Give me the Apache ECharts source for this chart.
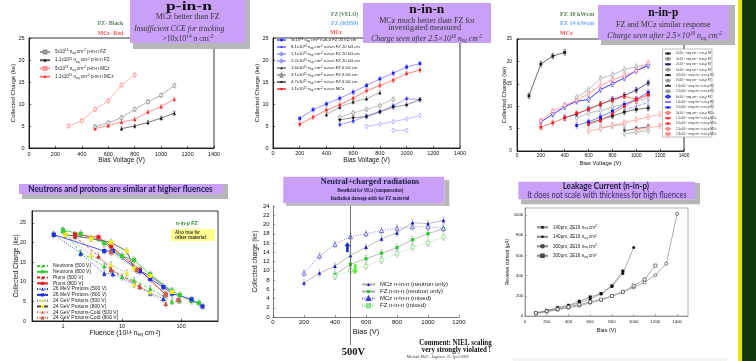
<!DOCTYPE html>
<html><head><meta charset="utf-8">
<script src="https://cdn.jsdelivr.net/npm/echarts/dist/echarts.min.js"></script>
<style>html,body{margin:0;padding:0;background:#fff}#c{width:756px;height:361px}</style>
</head><body><div id="c"></div><script>
// ---------------- DATA ----------------
// Chart 1: p-in-n (Bias V, collected charge ke)
const C1_FZ_5E14  = [[500,4.8],[600,5.7],[700,6.9],[800,8.8],[900,10.5],[1000,12.0],[1100,14.2]];
const C1_FZ_1E15  = [[700,4.4],[800,5.0],[900,5.8],[1000,6.8],[1100,7.9]];
const C1_MCZ_5E14 = [[300,5.0],[400,6.2],[500,8.8],[600,10.7],[700,14.3],[800,16.6]];
const C1_MCZ_1E15 = [[500,4.4],[600,5.1],[700,5.9],[800,6.5],[900,8.2],[1000,9.4],[1100,11.1]];
// Chart 2: n-in-n
const C2_S1 = [[200,6.7],[300,8.7],[400,10.0],[500,11.3],[600,12.7],[700,14.2],[800,15.7],[900,17.0],[1000,18.4],[1100,19.2]];
const C2_S2 = [[500,5.3],[600,6.1],[700,7.3],[800,8.3],[900,9.6],[1000,11.2],[1100,11.0]];
const C2_S3 = [[700,4.9],[800,5.4],[900,6.0],[1000,6.6],[1100,7.4]];
const C2_S4 = [[900,4.0],[1000,4.0]];
const C2_S5 = [[400,7.6],[500,9.3],[600,10.5],[700,11.2],[800,12.6]];
const C2_S6 = [[500,7.0],[600,8.0],[700,8.8],[800,9.7],[900,11.1]];
const C2_S7 = [[500,6.4],[600,6.9],[700,7.1],[800,8.2],[900,9.3],[1000,9.8],[1100,11.0]];
const C2_S8 = [[200,5.4],[300,7.0],[400,8.6],[500,9.8],[600,11.3],[700,13.0],[800,14.2],[900,15.4],[1000,16.9],[1100,17.7]];
// Chart 3: n-in-p
const C3_S1  = [[100,12.3],[200,19.4],[300,21.2],[400,22.0]];
const C3_S2  = [[500,12.0],[600,13.7],[700,16.2],[800,17.0],[900,18.2],[1000,18.8],[1100,19.3]];
const C3_S3  = [[400,7.4],[500,8.2],[600,9.4],[700,10.4],[800,11.5],[900,12.4],[1000,13.6],[1100,15.2]];
const C3_S4  = [[500,7.3],[600,8.5],[700,9.0],[800,9.8],[900,10.5],[1000,11.2],[1100,11.8]];
const C3_S5  = [[600,6.2],[700,7.0],[800,7.8],[900,8.7],[1000,9.3],[1100,9.6]];
const C3_S6  = [[700,5.2],[800,5.6],[900,5.9]];
const C3_S7  = [[900,4.5],[1000,5.0],[1100,5.4]];
const C3_S8  = [[900,3.9],[1000,4.2],[1100,4.6]];
const C3_S9  = [[200,6.5],[300,8.2],[400,9.9],[500,11.1],[600,11.5],[700,13.7],[800,15.0],[900,16.3],[1000,17.9],[1100,19.1]];
const C3_S10 = [[900,9.2],[1000,10.0],[1100,10.8]];
const C3_S11 = [[500,5.7],[600,6.5],[700,7.6],[800,8.9],[900,10.4],[1000,11.6],[1100,13.1]];
const C3_S12 = [[200,6.7],[300,8.9],[400,10.2],[500,11.3],[600,12.8],[700,14.6],[800,15.9],[900,16.8],[1000,17.9],[1100,19.7]];
const C3_S13 = [[200,5.3],[300,6.3],[400,7.4],[500,8.4],[600,9.3],[700,10.5],[800,11.3],[900,12.2],[1000,11.5],[1100,12.6]];
const C3_S14 = [[600,6.0],[700,6.8],[800,8.3],[900,10.0],[1000,11.4],[1100,12.5]];
const C3_S15 = [[600,4.4],[700,5.0],[800,5.7],[900,6.3],[1000,7.0],[1100,7.6],[1200,8.2]];
const C3_S16 = [[1000,4.7],[1100,5.2],[1200,5.6]];
// Chart 4: fluence (1e14 neq/cm2) vs collected charge
const C4_N500 = [[1,23.0],[2,17.4],[5,14.0],[10,11.2],[16,10.3],[30,8.2],[70,5.0],[95,5.2]];
const C4_N800 = [[1,23.1],[2,22.2],[5,19.8],[10,16.5],[16,15.5],[30,11.9],[70,7.7],[95,6.6],[150,5.1],[200,4.6]];
const C4_P500 = [[1.6,21.5],[4,16.5],[6.5,13.2],[20,8.8]];
const C4_P800 = [[1.6,22.0],[4,21.3],[6.5,19.0],[20,13.0],[55,6.7]];
const C4_M500 = [[0.7,22.0],[2,17.2],[5,12.1],[7,12.0],[30,7.1],[50,5.7]];
const C4_M800 = [[0.7,22.0],[5,17.8],[7,17.8],[20,12.7],[30,10.7],[50,8.6],[70,7.0],[150,5.5],[230,3.7]];
const C4_G500 = [[1.1,22.0],[3,16.8],[6.5,14.3],[12,12.2],[16,9.3],[30,7.3]];
const C4_G800 = [[1.1,22.0],[3,21.0],[6.5,20.0],[12,17.8],[16,13.4],[30,11.5],[70,7.4]];
const C4_C500 = [[6.5,13.0],[20,8.7],[55,4.4]];
const C4_C800 = [[6.5,17.5],[18,12.9],[55,6.7],[90,5.3]];
// Chart 5: neutral + charged
const C5_MCZ_N = [[200,7.35],[300,9.5],[400,11.0],[500,13.3],[600,15.1],[700,16.9],[800,18.2],[900,20.4],[1000,20.2],[1100,20.9]];
const C5_FZ_N  = [[400,9.2],[500,11.4],[600,12.6],[700,13.8],[800,15.0],[900,16.7],[1000,18.0],[1100,19.1]];
const C5_MCZ_M = [[200,9.5],[300,13.2],[400,15.7],[500,17.4],[600,18.0],[700,18.7],[800,19.2],[900,19.5],[1000,19.5],[1100,19.2]];
const C5_FZ_M  = [[400,8.8],[500,10.1],[600,11.0],[700,12.3],[800,13.7],[900,15.1],[1000,16.0],[1100,17.3]];
const C5_MARK_V = 500;
const C5_ARROW_UP = [480, 15.1];
const C5_ARROW_DOWN = [530, 10.3];
// Chart 6: leakage current (Bias V, uA)
const C6_140A = [[100,30],[200,56],[300,83],[400,106],[500,146],[600,189],[700,223],[800,299],[900,445]];
const C6_140B = [[100,28],[200,52],[300,75],[400,100],[500,130],[600,170],[700,218],[800,293],[900,420],[1000,678]];
const C6_300A = [[100,22],[200,42],[300,62],[400,82],[500,102],[600,130],[700,160],[800,197],[900,238],[1000,283],[1100,333],[1200,405],[1300,518],[1400,1012]];
const C6_300B = [[100,28],[200,48],[300,68],[400,90],[500,113],[600,140],[700,163],[800,198],[900,240],[1000,300],[1100,362],[1200,500]];

// ---------------- HELPERS ----------------
const SANS='"Liberation Sans", Arial, sans-serif', SERIF='"Liberation Serif", serif', CAL='Lato, "Open Sans", sans-serif';
const PURP='#c9a0f8', GRAY='#b6b6b6';
const mctx=document.createElement('canvas').getContext('2d');
function mw(t,f){mctx.font=f;return mctx.measureText(t).width;}
const fmt=n=>n.trim().replace(/\^\{([^}]*)\}/g,'{sup|$1}').replace(/_\{([^}]*)\}/g,'{sub|$1}');
const SUP={'0':'⁰','1':'¹','2':'²','3':'³','4':'⁴','5':'⁵','6':'⁶','7':'⁷','8':'⁸','9':'⁹','-':'⁻'};
const fmtPlain=n=>n.trim().replace(/\^\{([^}]*)\}/g,(m,t)=>t.split('').map(ch=>SUP[ch]||ch).join('')).replace(/_\{([^}]*)\}/g,'$1');
function rich(fs,fam){return {sup:{fontSize:fs*0.68,lineHeight:fs*0.75,verticalAlign:'top',fontFamily:fam,color:'#222'},
  sub:{fontSize:fs*0.68,lineHeight:fs*0.75,verticalAlign:'bottom',fontFamily:fam,color:'#222'}};}
const STAR='path://M0,-10 L2.9,-4 L9.5,-3.1 L4.7,1.5 L5.9,8.1 L0,5 L-5.9,8.1 L-4.7,1.5 L-9.5,-3.1 L-2.9,-4 Z';
const numFmt=v=>String(Math.round(v*1000)/1000);

function ln(name,data,i,c,o){o=o||{};
  return {type:'line',name,data,xAxisIndex:i,yAxisIndex:i,symbol:o.sym||'rect',symbolSize:o.ss||2.8,symbolRotate:o.rot||0,
    lineStyle:{color:o.lc||c,width:o.lw||0.8,type:o.lt||'solid'},
    itemStyle:{color:o.open?'#fff':c,borderColor:c,borderWidth:o.open?0.7:0},
    emphasis:{disabled:true},silent:true,z:4,animation:false};}
function eb(data,i,e,c){
  return {type:'custom',xAxisIndex:i,yAxisIndex:i,silent:true,z:3,animation:false,
    data:data.map(p=>[p[0],p[1]-e,p[1]+e]),
    renderItem:(params,api)=>{const a=api.coord([api.value(0),api.value(1)]),b=api.coord([api.value(0),api.value(2)]),w=1.2;
      const st={stroke:c,lineWidth:0.6};
      return {type:'group',children:[
        {type:'line',shape:{x1:a[0],y1:a[1],x2:b[0],y2:b[1]},style:st},
        {type:'line',shape:{x1:a[0]-w,y1:a[1],x2:a[0]+w,y2:a[1]},style:st},
        {type:'line',shape:{x1:b[0]-w,y1:b[1],x2:b[0]+w,y2:b[1]},style:st}]};}};}
function axis(gi,o){
  const lc=gi===5?'#888':(gi===4?'#555':'#000');
  const a={gridIndex:gi,type:o.type||'value',min:o.min,max:o.max,
    name:o.name,nameLocation:'middle',nameGap:o.gap,nameMoveOverlap:false,
    nameTextStyle:{fontSize:o.nfs,color:'#111',fontFamily:SANS,rich:rich(o.nfs,SANS)},
    axisLine:{show:true,onZero:false,lineStyle:{color:lc,width:0.8}},
    axisTick:{show:true,inside:true,length:2.2,lineStyle:{color:lc,width:0.6}},
    axisLabel:{fontSize:o.lfs,color:'#111',margin:o.margin,fontFamily:SANS,formatter:numFmt},
    splitLine:{show:false}};
  if(o.interval)a.interval=o.interval;
  if(o.type==='log')a.logBase=10;
  if(o.hideMax)a.axisLabel.showMaxLabel=false;
  if(o.hideMin)a.axisLabel.showMinLabel=false;
  return a;}
function leg(names,left,top,fs,lh,gap,iw,ih,extra){
  return Object.assign({show:true,orient:'vertical',left,top,data:names,formatter:fmt,itemWidth:iw,itemHeight:ih,itemGap:gap,
    padding:0,selectedMode:false,textStyle:{fontSize:fs,lineHeight:lh,color:'#222',fontFamily:SANS,rich:rich(fs,SANS)}},extra||{});}

// ---------------- SERIES ----------------
const series=[];const L=[[],[],[],[],[],[]];
function add(ci,name,data,c,o,err,ec){series.push(ln(name,data,ci,c,o));L[ci].push(name);if(err)series.push(eb(data,ci,err,ec||(o&&o.lc)||c));}
// chart 1
add(0,'5x10^{14} n_{eq} cm^{-2} p-in-n FZ',C1_FZ_5E14,'#8c8c8c',{open:true,lc:'#9a9a9a'},0.5);
add(0,'1.1x10^{15} n_{eq} cm^{-2} p-in-n FZ',C1_FZ_1E15,'#111',{sym:'triangle',ss:3.2,lc:'#555'},0.45);
add(0,'5x10^{14} n_{eq} cm^{-2} p-in-n MCz',C1_MCZ_5E14,'#ff8a8a',{open:true,lc:'#ff9c9c'},0.5);
add(0,'1.1x10^{15} n_{eq} cm^{-2} p-in-n MCz',C1_MCZ_1E15,'#ff1e1e',{sym:'triangle',ss:3.2,lc:'#ff7a7a'},0.45);
// chart 2
add(1,'5x10^{14} n_{eq} cm^{-2} n-in-n FZ 20 kΩ cm',C2_S1,'#1e1eff',{lc:'#7878ff'},0.5);
add(1,'8.1x10^{14} n_{eq} cm^{-2} n-in-n FZ 20 kΩ cm',C2_S2,'#2a2aff',{sym:'diamond',ss:3.4,lc:'#8c8cff'},0.45);
add(1,'1.1x10^{15} n_{eq} cm^{-2} n-in-n FZ 20 kΩ cm',C2_S3,'#9a9aff',{sym:'diamond',ss:3.4,open:true,lc:'#b0b0ff'},0.45);
add(1,'2.2x10^{15} n_{eq} cm^{-2} n-in-n FZ 20 kΩ cm',C2_S4,'#9a9aff',{sym:'diamond',ss:3.4,open:true,lc:'#b0b0ff'},0.4);
add(1,'1.6x10^{15} n_{eq} cm^{-2} n-in-n FZ 6 kΩ cm',C2_S5,'#111',{sym:'triangle',ss:3.2,lc:'#9a9a9a'},0.5);
add(1,'3.1x10^{15} n_{eq} cm^{-2} n-in-n FZ 6 kΩ cm',C2_S6,'#9a9a9a',{sym:STAR,ss:4,open:true,lc:'#b4b4b4'},0.5);
add(1,'4.7x10^{15} n_{eq} cm^{-2} n-in-n FZ 6 kΩ cm',C2_S7,'#111',{sym:'diamond',ss:3.4,lc:'#777'},0.45);
add(1,'1.1x10^{15} n_{eq} cm^{-2} n-in-n MCz',C2_S8,'#ff2020',{sym:'circle',ss:2.6,lc:'#ff6060'},0.5);
// chart 3
const C3=[
 ['2x10^{14} n_{eq} cm^{-2} n-in-p FZ',C3_S1,'#111',{lc:'#444'}],
 ['5x10^{14} n_{eq} cm^{-2} n-in-p FZ',C3_S2,'#999',{sym:'circle',open:true,lc:'#aaa'}],
 ['2x10^{15} n_{eq} cm^{-2} n-in-p FZ',C3_S3,'#1a1a55',{lc:'#33337a'}],
 ['5x10^{15} n_{eq} cm^{-2} n-in-p FZ',C3_S4,'#999',{sym:'diamond',ss:3.2,open:true,lc:'#aaa'}],
 ['4.5x10^{15} n_{eq} cm^{-2} n-in-p FZ',C3_S5,'#111',{lc:'#555'}],
 ['7x10^{15} n_{eq} cm^{-2} n-in-p FZ',C3_S6,'#999',{sym:'circle',open:true,lc:'#aaa'}],
 ['1.6x10^{16} n_{eq} cm^{-2} n-in-p FZ',C3_S7,'#111',{sym:'triangle',rot:180,lc:'#555'}],
 ['2.2x10^{16} n_{eq} cm^{-2} n-in-p FZ',C3_S8,'#999',{sym:'circle',open:true,lc:'#aaa'}],
 ['6x10^{14} n_{eq} cm^{-2} n-in-p FZ',C3_S9,'#3a3aff',{sym:'circle',open:true,lc:'#3a3aff',lw:1}],
 ['1.6x10^{15} n_{eq} cm^{-2} n-in-p FZ',C3_S10,'#8080ff',{sym:'none',lc:'#8080ff',lt:'dashed'}],
 ['5.5x10^{15} n_{eq} cm^{-2} n-in-p FZ',C3_S11,'#1010ff',{lc:'#5a5aff'}],
 ['5x10^{14} n_{eq} cm^{-2} n-in-p MCz',C3_S12,'#ff7a7a',{sym:'circle',open:true,lc:'#ff8c8c'}],
 ['1.5x10^{15} n_{eq} cm^{-2} n-in-p MCz',C3_S13,'#ff1a1a',{lc:'#ff5a5a'}],
 ['5.5x10^{15} n_{eq} cm^{-2} n-in-p MCz',C3_S14,'#ff1a1a',{lc:'#ff6a6a'}],
 ['1.5x10^{16} n_{eq} cm^{-2} n-in-p MCz',C3_S15,'#ff8a8a',{sym:'circle',open:true,lc:'#ff9c9c'}],
 ['2.3x10^{16} n_{eq} cm^{-2} n-in-p MCz',C3_S16,'#ff8a8a',{sym:'triangle',rot:180,open:true,lc:'#ff9c9c'}]];
C3.forEach(s=>add(2,s[0],s[1],s[2],s[3],0.6));
// chart 4
const C4=[
 ['Neutrons (500 V)',C4_N500,'#33cc33',{sym:'triangle',ss:4.6,lc:'#33cc33',lt:[3,2]}],
 ['Neutrons (800 V)',C4_N800,'#33cc33',{ss:4.2,lc:'#33cc33'}],
 ['Pions (500 V)',C4_P500,'#e02020',{sym:'triangle',ss:4.6,lc:'#e02020',lt:[3,2]}],
 ['Pions (800 V)',C4_P800,'#e02020',{ss:4.2,lc:'#e02020'}],
 ['26 MeV Protons (500 V)',C4_M500,'#1f2fe0',{sym:'triangle',ss:4.6,lc:'#1f2fe0',lt:[1,1.5]}],
 ['26 MeV Protons (800 V)',C4_M800,'#1f2fe0',{ss:4.2,lc:'#1f2fe0'}],
 ['24 GeV Protons (500 V)',C4_G500,'#eeee10',{sym:'triangle',ss:4.6,lc:'#777',lt:[1,1.5]}],
 ['24 GeV Protons (800 V)',C4_G800,'#eeee10',{ss:4.2,lc:'#444'}],
 ['24 GeV Protons-Cold (500 V)',C4_C500,'#c8503c',{sym:'triangle',ss:4.6,lc:'#d07060',lt:[1,1.5]}],
 ['24 GeV Protons-Cold (800 V)',C4_C800,'#d06050',{ss:4.2,lc:'#d07060',lt:[1,1.5]}]];
C4.forEach(s=>add(3,s[0],s[1],s[2],s[3],0.8,'#999'));
// chart 5
add(4,'MCz n-in-n (neutron only)',C5_MCZ_N,'#1010c8',{sym:'triangle',ss:3.6,lc:'#aaa'},0.7,'#aaa');
add(4,'FZ n-in-n (neutron only)',C5_FZ_N,'#22cc22',{ss:3.2,lc:'#aaa'},0.7,'#aaa');
add(4,'MCz n-in-n (mixed)',C5_MCZ_M,'#3a3ad0',{sym:'triangle',ss:4,open:true,lc:'#6a6ad8',lt:[1,1.5]},0.7,'#aaa');
add(4,'FZ n-in-n (mixed)',C5_FZ_M,'#7fe07f',{ss:3.4,open:true,lc:'#8fe08f',lt:[1,1.5]},0.7,'#aaa');
// chart 6
add(5,'140μm, 2E16 n_{eq} cm^{2}',C6_140A,'#111',{ss:3,lc:'#888',lw:0.7});
add(5,'140μm, 2E16 n_{eq} cm^{2} ',C6_140B,'#111',{sym:'circle',ss:3,lc:'#888',lw:0.7});
add(5,'300μm, 2E16 n_{eq} cm^{2}',C6_300A,'#444',{sym:'circle',ss:3,open:true,lc:'#888',lw:0.7});
add(5,'300μm, 2E16 n_{eq} cm^{2} ',C6_300B,'#444',{ss:3,open:true,lc:'#888',lw:0.7});

// ---------------- LAYOUT ----------------
const G=[{left:29,top:38,width:185,height:110},{left:273,top:38,width:187,height:110},{left:517,top:39,width:167,height:112},
 {left:32,top:211,width:186,height:110},{left:273,top:206,width:186,height:111},{left:525,top:208,width:163,height:108}];
const grids=G.map((g,i)=>Object.assign({show:i!==4,borderColor:i===5?'#999':'#000',borderWidth:0.8,backgroundColor:'rgba(0,0,0,0)',containLabel:false,outerBoundsMode:'none'},g));
const xAxes=[
 axis(0,{min:0,max:1400,interval:200,name:'Bias Voltage (V)',gap:9,nfs:6.5,lfs:5.5,margin:3}),
 axis(1,{min:0,max:1400,interval:200,name:'Bias Voltage (V)',gap:8.3,nfs:6.5,lfs:5.5,margin:2.8}),
 axis(2,{min:0,max:1400,interval:200,name:'Bias Voltage (V)',gap:9.3,nfs:5.8,lfs:4.8,margin:2.6}),
 axis(3,{type:'log',min:0.3,max:420,name:fmt('Fluence (10^{14} n_{eq} cm^{-2})'),gap:8.8,nfs:7,lfs:5.5,margin:2.9,hideMin:true,hideMax:true}),
 axis(4,{min:0,max:1200,interval:200,name:'Bias (V)',gap:11,nfs:7.5,lfs:6,margin:2}),
 axis(5,{min:0,max:1500,interval:200,name:'Bias (V)',gap:11.5,nfs:5.5,lfs:4.3,margin:3.6,hideMax:true})];
const yAxes=[
 axis(0,{min:0,max:25,interval:5,name:'Collected Charge (ke)',gap:13,nfs:6,lfs:5.5,margin:4.5}),
 axis(1,{min:0,max:25,interval:5,name:'Collected Charge (ke)',gap:13,nfs:6,lfs:5.5,margin:4.4}),
 axis(2,{min:0,max:25,interval:5,name:'Collected Charge (ke)',gap:9.5,nfs:5.8,lfs:4.8,margin:5}),
 axis(3,{min:0,max:28,interval:5,name:'Collected Charge (ke)',gap:12.5,nfs:6.5,lfs:5.5,margin:6,hideMax:true}),
 axis(4,{min:0,max:24,interval:2,name:'Collected charge (ke)',gap:14,nfs:6.5,lfs:6,margin:3.3}),
 axis(5,{min:0,max:1070,interval:200,name:'Reverse current (μA)',gap:15,nfs:5,lfs:4.3,margin:1.8,hideMax:true})];
const legends=[
 leg(L[0],39,49,4.6,6,2.2,10,3.6),
 leg(L[1],276,37.5,4.2,5,2,9,3.2),
 {show:true,orient:'vertical',left:664,top:51.5,width:46,height:86,data:L[2],formatter:fmtPlain,itemWidth:6,itemHeight:2.6,itemGap:1.35,
   padding:0,selectedMode:false,z:6,textStyle:{fontSize:3.1,lineHeight:4,color:'#333',fontFamily:SANS}},
 leg(L[3],36,263.5,5,4.4,0.78,11,4),
 leg(L[4],361,281.4,6,5.8,1.1,13,3.8),
 leg(L[5],536,224.8,4.6,5,4.5,11,3.2)];

// ---------------- GRAPHICS ----------------
function R(x,y,w,h,f,z){return {type:'rect',z:z||100,silent:true,shape:{x,y,width:w,height:h},style:{fill:f}};}
function FT(cx,cy,text,font,fill,w){const s=w?w/mw(text,font):1;
  return {type:'text',x:cx,y:cy,scaleX:s,z:110,silent:true,style:{text,font,fill,align:'center',verticalAlign:'middle'}};}
function RT(cx,cy,text,fs,fam,fst,fill,w,fw){fst=fst||'normal';fw=fw||'normal';
  let tw=0;text.replace(/\{(sup|sub)\|([^}]*)\}|([^{]+)/g,(m,k,t,p)=>{tw+=p?mw(p,fst+' '+fw+' '+fs+'px '+fam):mw(t,fst+' '+fw+' '+(fs*0.68)+'px '+fam);return m;});
  const s=w?w/tw:1;const tok=(va)=>({fontSize:fs*0.68,lineHeight:fs*0.75,verticalAlign:va,fontFamily:fam,fontStyle:fst,fontWeight:fw,fill});
  return {type:'text',x:cx,y:cy,scaleX:s,z:110,silent:true,style:{text,fontSize:fs,fontFamily:fam,fontStyle:fst,fontWeight:fw,fill,lineHeight:fs*1.25,
    align:'center',verticalAlign:'middle',rich:{sup:tok('top'),sub:tok('bottom')}}};}
const gfx=[
 R(738,0,4.5,361,'#e6e600'),R(742.5,0,13.5,361,'#0c370c'),R(742.3,0,0.8,361,'#151515'),R(513,358,214,3,'#eef6ee'),
 // legend panel chart 3 (white box behind the legend)
 {type:'rect',z:5,silent:true,shape:{x:662.5,y:49,width:49.5,height:88},style:{fill:'#fff',stroke:'#999',lineWidth:0.6}},
 // box 1
 R(133,43,117,6,GRAY),R(246,0,4,49,GRAY),R(130,0,116,43,PURP),
 FT(189,6.6,'p-in-n','bold 13.5px '+SERIF,'#111',46),
 FT(187.7,16.9,'MCz better than FZ','9px '+SERIF,'#333',64),
 FT(179.3,28.9,'Insufficient CCE for tracking','italic 9px '+SERIF,'#333',90),
 RT(187.8,39,'>10x10{sup|14} n cm{sup|-2}',8.5,SERIF,'normal','#333',51),
 FT(110.5,23.3,'FZ- Black','bold 7px '+SERIF,'#5f7a5f',25.6),
 FT(110.5,32.7,'MCz- Red','bold 7px '+SERIF,'#ff5a5a',25.6),
 // box 2
 R(363,3,128,40,PURP),
 FT(426.8,10,'n-in-n','bold 13px '+SERIF,'#111',35),
 FT(427,20.3,'MCz much better than FZ for','9px '+SERIF,'#333',95.7),
 FT(424.7,27.3,'investigated measured','9px '+SERIF,'#333',72.7),
 RT(426.7,38.3,'Charge seen after 2.5×10{sup|16} n{sub|eq} cm{sup|-2}',8.5,SERIF,'italic','#333',111),
 FT(344.6,14,'FZ (VELO)','bold 7px '+SERIF,'#5f7a5f',27),
 FT(344.6,22.7,'FZ (RD50)','bold 7px '+SERIF,'#6aa8ff',27),
 FT(336.2,32,'MCz','bold 7px '+SERIF,'#ff5050',11.7),
 // box 3
 R(601,40,134,5,GRAY),R(729,5,6,40,GRAY),R(598,5,131,35,PURP),
 FT(663.3,13,'n-in-p','bold 13px '+SERIF,'#111',30),
 FT(663.3,24.5,'FZ and MCz similar response','9px '+SERIF,'#333',94.7),
 RT(664.7,35.7,'Charge seen after 2.5×10{sup|16} n{sub|eq} cm{sup|-2}',8.5,SERIF,'italic','#333',114.7),
 FT(577.2,14,'FZ 30 kWcm','bold 7px '+SERIF,'#5f7a5f',34.3),
 FT(577.2,23.3,'FZ 14 kWcm','bold 7px '+SERIF,'#6aa8ff',34.3),
 FT(566.3,33,'MCz','bold 7px '+SERIF,'#ff5050',12.7),
 // box 4
 R(22,194,206,5,GRAY),R(223,184,5,15,GRAY),R(19,184,204,10,PURP),
 FT(120.5,189,'Neutrons and protons are similar at higher fluences','bold 9px '+CAL,'#1c1c48',184.3),
 FT(186.7,223.3,'n-in-p FZ','bold 5.5px '+SANS,'#2a8a2a',21.7),
 R(171,229,44,12,'#ffff90'),
 FT(187.5,233,'Also true for','bold 4.5px '+SANS,'#333',25),
 FT(190.5,237.5,'other material','bold 4.5px '+SANS,'#333',31),
 // box 5
 R(444.3,180,5,26,GRAY),R(286,203.3,163.3,2.5,GRAY),R(283.3,176.7,161,26.6,PURP),
 FT(370,181.7,'Neutral+charged radiations','bold 9px '+SERIF,'#1a1a40',98.7),
 FT(370.3,190.7,'Beneficial for MCz (compensation)','bold 6px '+SERIF,'#1a1a40',66),
 FT(370,198.3,'Radiation damage adds for FZ material','bold 6px '+SERIF,'#1a1a40',78.7),
 FT(455.5,343,'Comment: NIEL scaling','bold 7.5px '+SERIF,'#111',72.3),
 FT(456.3,350,'very strongly violated !','bold 7.5px '+SERIF,'#111',69.3),
 FT(437.5,357,'Michael Moll – Legnaro, 21 April 2009','italic 4.5px '+SERIF,'#333',61.7),
 FT(353.3,352.5,'500V','bold 10px '+SERIF,'#111',23.3),
 // box 6
 R(521,199.3,179,5,GRAY),R(695,183,5,21,GRAY),R(518.3,181.7,176.7,17.6,PURP),
 FT(605.8,186,'Leakage Current (n-in-p)','bold 8.5px '+CAL,'#1a1a3a',86.3),
 FT(607,195,'It does not scale with thickness for high fluences','8.5px '+CAL,'#3d2a66',159.3)
];

const chart=echarts.init(document.getElementById('c'),null,{renderer:'canvas',width:756,height:361});
chart.setOption({animation:false,backgroundColor:'#fff',textStyle:{fontFamily:SANS},
  grid:grids,xAxis:xAxes,yAxis:yAxes,legend:legends,series,graphic:{elements:gfx}});

// annotations positioned through the chart-5 scales
const vx=chart.convertToPixel({xAxisIndex:4},C5_MARK_V);
const up=chart.convertToPixel({gridIndex:4},C5_ARROW_UP);
const dn=chart.convertToPixel({gridIndex:4},C5_ARROW_DOWN);
function arrow(p,dir,col){const d=dir;const pts=[[0,-5*d],[3,-0.8*d],[1.3,-0.8*d],[1.3,5*d],[-1.3,5*d],[-1.3,-0.8*d],[-3,-0.8*d]].map(q=>[p[0]+q[0],p[1]+q[1]]);
  return {type:'polygon',z:120,silent:true,shape:{points:pts},style:{fill:col}};}
chart.setOption({graphic:{elements:gfx.concat([
  {type:'line',z:90,silent:true,shape:{x1:vx,y1:204,x2:vx,y2:345},style:{stroke:'#555',lineWidth:0.8}},
  arrow(up,1,'#1030c8'),arrow(dn,-1,'#55ee33')])}},{replaceMerge:['graphic']});
</script></body></html>
